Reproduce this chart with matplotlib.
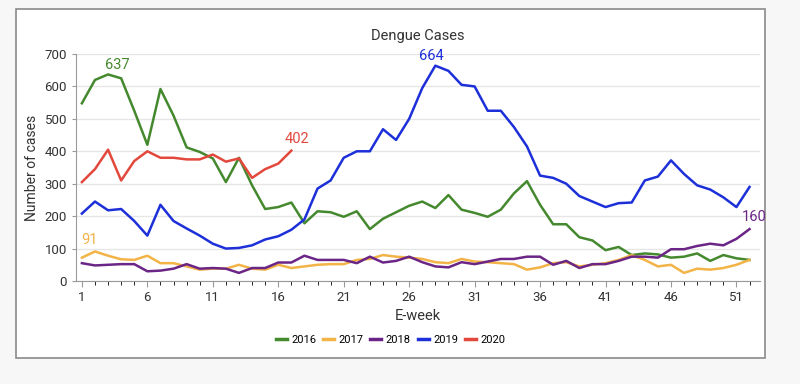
import matplotlib
matplotlib.use("Agg")
import matplotlib.pyplot as plt
from matplotlib.patches import Rectangle

plt.rcParams['font.family'] = ['Roboto', 'DejaVu Sans']

weeks = list(range(1, 53))
years = ['2016', '2017', '2018', '2019', '2020']
colors = ['#45892f', '#f2b347', '#6b2586', '#1c2fd8', '#e3483c']

cases_2016 = [548, 620, 637, 625, 525, 420, 592, 510, 412, 398, 378, 305, 380, 295, 222, 228,
              242, 178, 215, 212, 198, 215, 160, 192, 212, 232, 245, 225, 265, 220, 210, 198,
              220, 270, 308, 235, 175, 175, 135, 125, 95, 105, 80, 85, 82, 72, 75, 85, 62, 80,
              70, 65]
cases_2017 = [72, 91, 78, 67, 65, 78, 55, 55, 45, 35, 38, 38, 50, 38, 35, 50, 40, 45, 50, 52,
              52, 65, 68, 80, 75, 72, 68, 58, 55, 68, 60, 58, 55, 52, 35, 42, 55, 58, 45, 50,
              55, 65, 80, 65, 45, 50, 25, 38, 35, 40, 50, 65]
cases_2018 = [55, 48, 50, 52, 52, 30, 32, 38, 52, 38, 40, 38, 25, 40, 40, 57, 57, 78, 65, 65,
              65, 55, 75, 57, 62, 75, 58, 45, 42, 58, 52, 60, 68, 68, 75, 75, 50, 62, 40, 52,
              52, 62, 75, 75, 72, 98, 98, 108, 115, 110, 130, 160]
cases_2019 = [208, 245, 218, 222, 185, 140, 235, 185, 162, 140, 115, 100, 102, 110, 128, 138,
              158, 190, 285, 310, 380, 400, 400, 468, 435, 500, 595, 664, 648, 605, 600, 525,
              525, 475, 415, 325, 318, 300, 262, 245, 228, 240, 242, 310, 322, 372, 330, 295,
              282, 258, 228, 290]
cases_2020 = [305, 345, 405, 310, 370, 400, 380, 380, 375, 375, 390, 368, 378, 318, 345, 362, 402]

series = [cases_2016, cases_2017, cases_2018, cases_2019, cases_2020]

# labelled points: (series index, week, value)
callouts = [(0, 3, 637), (1, 2, 91), (4, 17, 402), (3, 28, 664), (2, 52, 160)]
callout_offsets = [(7, 2), (-4, 3), (4, 3), (-3, 2), (3, 4)]

fig = plt.figure(figsize=(8, 3.84), dpi=100)
fig.patch.set_facecolor('#f7f7f7')
card = Rectangle((16 / 800, 1 - 358 / 384), (765 - 16) / 800, (358 - 9) / 384,
                 transform=fig.transFigure, facecolor='white',
                 edgecolor='#8a8a8a', linewidth=1.2, zorder=-10)
fig.patches.append(card)

ax = fig.add_axes([76 / 800, 1 - 281 / 384, (760 - 76) / 800, (281 - 54) / 384])
ax.set_facecolor('white')
ax.set_zorder(1)

for i, vals in enumerate(series):
    ax.plot(weeks[:len(vals)], vals, color=colors[i], linewidth=1.8, label=years[i])

for (si, w, v), (dx, dy) in zip(callouts, callout_offsets):
    ax.annotate(str(v), (w, v), xytext=(dx, dy), textcoords='offset points',
                ha='center', va='bottom', color=colors[si], fontsize=10.5)

ax.set_xlim(0.55, 52.8)
ax.set_ylim(0, 700)
ax.set_yticks(range(0, 701, 100))
ax.set_xticks(range(1, 53, 5))
ax.set_xticks(weeks, minor=True)
ax.grid(axis='y', color='#e6e6e6', linewidth=1)
ax.set_axisbelow(True)
for s in ['top', 'right']:
    ax.spines[s].set_visible(False)
for s in ['left', 'bottom']:
    ax.spines[s].set_color('#9a9a9a')
ax.tick_params(axis='both', colors='#9a9a9a', labelcolor='#333333', labelsize=9.5)
ax.tick_params(axis='x', which='major', length=4)
ax.tick_params(axis='x', which='minor', length=3)
ax.tick_params(axis='y', length=3)

ax.set_title('Dengue Cases', fontsize=10.5, color='#333333', pad=10)
ax.set_xlabel('E-week', fontsize=10.5, color='#333333', labelpad=3)
ax.set_ylabel('Number of cases', fontsize=10, color='#333333', labelpad=4)

leg = ax.legend(loc='center', bbox_to_anchor=(0.46, -0.26), ncol=5, frameon=False,
                fontsize=8, handlelength=1.0, handletextpad=0.4, columnspacing=0.6)
for line in leg.get_lines():
    line.set_linewidth(2.5)

fig.savefig('out.png', dpi=100)
